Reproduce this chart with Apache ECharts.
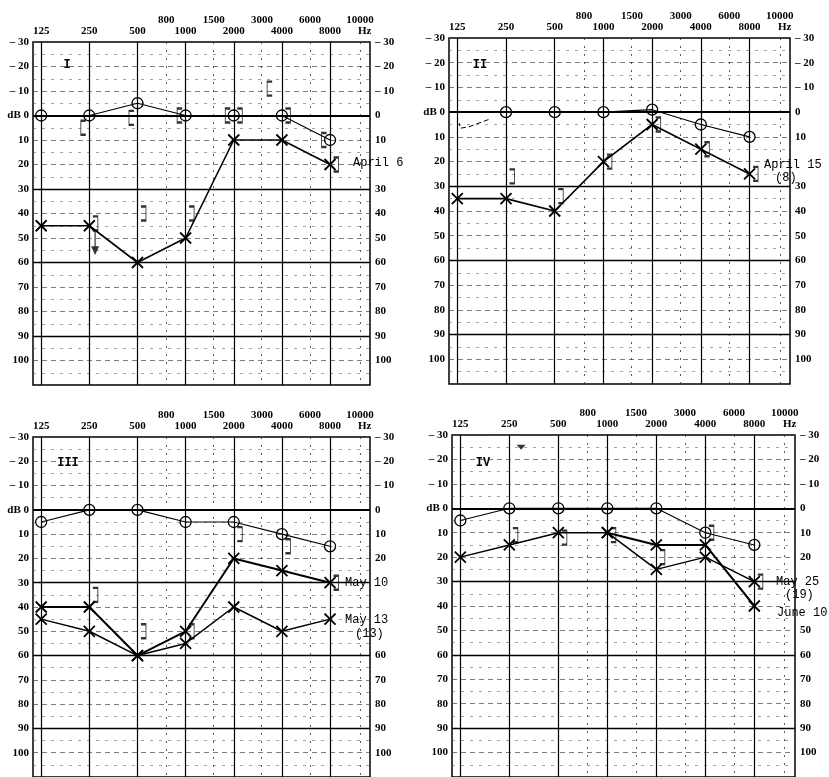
<!DOCTYPE html>
<html>
<head>
<meta charset="utf-8">
<script src="https://cdn.jsdelivr.net/npm/echarts@6/dist/echarts.min.js"></script>
<style>
html, body { margin: 0; padding: 0; background: #fff; }
#main { width: 829px; height: 777px; }
</style>
</head>
<body>
<div id="main"></div>
<script>
// frequency positions, octaves from 125 Hz
const freqPos = [0, 1, 2, 3, 4, 5, 6];
const freqLabels = ['125', '250', '500', '1000', '2000', '4000', '8000'];
const midPos = [2.6, 3.585, 4.585, 5.585, 6.62];
const midLabels = ['800', '1500', '3000', '6000', '10000'];
const boldLines = [0, 30, 60, 90];

// I - April 6
const airI = [0, 0, -5, 0, 0, 0, 10];
const crossI = [45, 45, 60, 50, 10, 10, 20];
const openI = [[1, 5], [2, 1], [3, 0], [4, 0], [6, 10], [4.87, -11]];
const closeI = [[1, 44], [2, 40], [3, 40], [4, 0], [5, 0], [6, 20]];
const arrowI = [[1.12, 52]];

// II - April 15 (8)
const airII = [null, 0, 0, 0, -1, 5, 10];
const crossII = [35, 35, 40, 20, 5, 15, 25];
const closeII = [[1, 26], [2, 34], [3, 20], [4, 5], [5, 15], [6, 25]];
const hookII = [[0.64, 3], [0.23, 6], [0.06, 6.5], [0.04, 4.5]];

// III - May 10, May 13 (13)
const airIII = [5, 0, 0, 5, 5, 10, 15];
const crossMay10 = [40, 40, 60, 50, 20, 25, 30];
const crossMay13 = [45, 50, 60, 55, 40, 50, 45];
const closeIII = [[1, 35], [2, 50], [3, 50], [4, 10], [5, 15], [6, 30]];

// IV - May 25 (19), June 10
const airIV = [5, 0, 0, 0, 0, 10, 15];
const crossMay25 = [20, 15, 10, 10, 25, 20, 30];
const crossJune10 = [null, null, null, 10, 15, 15, 40];
const closeIV = [[1, 11], [2, 12], [3, 11], [4, 20], [5, 10], [6, 30]];
const triIV = [[1.24, -25]];

const X_PATH = 'path://M0,0 L10,10 M10,0 L0,10';
const OPEN_PATH = 'path://M5,0 L0,0 L0,14 L5,14';
const CLOSE_PATH = 'path://M0,0 L5,0 L5,14 L0,14';
const ARROW_PATH = 'path://M4.4,0 L5.6,0 L5.6,14 L9,14 L5,22 L1,14 L4.4,14 Z';
const axisFont = 'Liberation Serif';

let grids = [], xAxes = [], yAxes = [], series = [];

function pts(arr) {
	let out = [];
	for (let i = 0; i < freqPos.length; i++) {
		if (arr[i] != null) out.push([freqPos[i], arr[i]]);
	}
	return out;
}

function leftLabel(v) {
	if (v === 110) return '';
	if (v < 0) return '– ' + (-v);
	if (v === 0) return 'dB 0';
	return String(v);
}

function rightLabel(hide) {
	return function (v) {
		if (v === 110 || hide.indexOf(v) >= 0) return '';
		if (v < 0) return '– ' + (-v);
		return String(v);
	};
}

function addPanel(box, hideRight) {
	let g = grids.length;
	grids.push({
		left: box.left, top: box.top, width: box.width, height: box.height,
		show: true, borderColor: '#000', borderWidth: 1.5, backgroundColor: '#fff'
	});
	let xi = xAxes.length;
	// lower row of frequencies
	xAxes.push({
		gridIndex: g, type: 'value', min: -0.17, max: 6.83, position: 'top',
		axisLine: { show: false }, axisTick: { show: false }, splitLine: { show: false },
		axisLabel: {
			customValues: freqPos.concat([6.72]),
			formatter: v => v > 6.5 ? 'Hz' : freqLabels[Math.round(v)],
			margin: 5, color: '#000', fontFamily: axisFont, fontWeight: 'bold', fontSize: 11
		}
	});
	// upper row
	xAxes.push({
		gridIndex: g, type: 'value', min: -0.17, max: 6.83, position: 'top', offset: 11,
		axisLine: { show: false }, axisTick: { show: false }, splitLine: { show: false },
		axisLabel: {
			customValues: midPos,
			formatter: v => midLabels[midPos.indexOf(v)],
			margin: 5, color: '#000', fontFamily: axisFont, fontWeight: 'bold', fontSize: 11
		}
	});
	let yi = yAxes.length;
	yAxes.push({
		gridIndex: g, type: 'value', inverse: true, min: -30, max: 110, interval: 10,
		axisLine: { show: false }, axisTick: { show: false },
		axisLabel: { formatter: leftLabel, margin: 4, color: '#000', fontFamily: axisFont, fontWeight: 'bold', fontSize: 11 },
		splitLine: { show: true, lineStyle: { color: '#444', width: 0.7, type: [5, 4] } },
		minorTick: { show: false, splitNumber: 2 },
		minorSplitLine: { show: true, lineStyle: { color: '#666', width: 0.6, type: [3, 6] } }
	});
	yAxes.push({
		gridIndex: g, type: 'value', inverse: true, min: -30, max: 110, interval: 10, position: 'right',
		axisLine: { show: false }, axisTick: { show: false }, splitLine: { show: false },
		axisLabel: { formatter: rightLabel(hideRight), margin: 5, color: '#000', fontFamily: axisFont, fontWeight: 'bold', fontSize: 11 }
	});

	// grid lines of the audiogram form
	let lines = [];
	for (let v of freqPos) lines.push({ xAxis: v, lineStyle: { color: '#000', width: 1.2, type: 'solid' } });
	for (let v of midPos) lines.push({ xAxis: v, lineStyle: { color: '#333', width: 0.8, type: [2, 6] } });
	for (let v of boldLines) lines.push({ yAxis: v, lineStyle: { color: '#000', width: v === 0 ? 2.2 : 1.3, type: 'solid' } });
	series.push({
		type: 'line', xAxisIndex: xi, yAxisIndex: yi, data: [], silent: true,
		markLine: { silent: true, symbol: ['none', 'none'], label: { show: false }, animation: false, data: lines }
	});
	return { xi, yi };
}

function airLine(p, arr) {
	series.push({
		type: 'line', xAxisIndex: p.xi, yAxisIndex: p.yi, data: pts(arr),
		symbol: 'circle', symbolSize: 11, z: 5,
		itemStyle: { color: 'rgba(0,0,0,0)', borderColor: '#000', borderWidth: 1.3 },
		lineStyle: { color: '#000', width: 1.1 }
	});
}

function crossLine(p, arr, w) {
	series.push({
		type: 'line', xAxisIndex: p.xi, yAxisIndex: p.yi, data: pts(arr),
		symbol: X_PATH, symbolSize: 11, z: 6,
		itemStyle: { color: '#000', borderColor: '#000', borderWidth: 1.8 },
		lineStyle: { color: '#000', width: w }
	});
}

function brackets(p, arr, path, dx) {
	series.push({
		type: 'scatter', xAxisIndex: p.xi, yAxisIndex: p.yi, data: arr,
		symbol: path, symbolSize: [5, 14], symbolOffset: [dx, 0], z: 7,
		itemStyle: { color: 'rgba(0,0,0,0)', borderColor: '#000', borderWidth: 1.4 }
	});
}

// I
let p1 = addPanel({ left: 33, top: 42, width: 337, height: 343 }, [20]);
airLine(p1, airI);
crossLine(p1, crossI, 1.6);
brackets(p1, openI, OPEN_PATH, -6);
brackets(p1, closeI, CLOSE_PATH, 6);
series.push({
	type: 'scatter', xAxisIndex: p1.xi, yAxisIndex: p1.yi, data: arrowI,
	symbol: ARROW_PATH, symbolSize: [8, 24], itemStyle: { color: '#000' }
});

// II
let p2 = addPanel({ left: 449, top: 38, width: 341, height: 346 }, [20]);
airLine(p2, airII);
crossLine(p2, crossII, 1.6);
brackets(p2, closeII, CLOSE_PATH, 6);
series.push({
	type: 'line', xAxisIndex: p2.xi, yAxisIndex: p2.yi, data: hookII, symbol: 'none',
	lineStyle: { color: '#000', width: 1, type: [5, 3] }
});

// III
let p3 = addPanel({ left: 33, top: 437, width: 337, height: 344 }, [30, 40, 50]);
airLine(p3, airIII);
crossLine(p3, crossMay10, 2);
crossLine(p3, crossMay13, 1.5);
brackets(p3, closeIII, CLOSE_PATH, 6);

// IV
let p4 = addPanel({ left: 452, top: 435, width: 343, height: 344 }, [30, 40]);
airLine(p4, airIV);
crossLine(p4, crossMay25, 1.5);
crossLine(p4, crossJune10, 2);
brackets(p4, closeIV, CLOSE_PATH, 6);
series.push({
	type: 'scatter', xAxisIndex: p4.xi, yAxisIndex: p4.yi, data: triIV,
	symbol: 'triangle', symbolRotate: 180, symbolSize: [9, 5], itemStyle: { color: '#000' }
});

// panel numbers and dates
const notes = [
	['I', 67, 65, 'bold 12px "Liberation Mono"', 'center'],
	['II', 480, 65, 'bold 12px "Liberation Mono"', 'center'],
	['III', 68, 463, 'bold 12px "Liberation Mono"', 'center'],
	['IV', 483, 463, 'bold 12px "Liberation Mono"', 'center'],
	['April 6', 353, 163, '12px "Liberation Mono"', 'left'],
	['April 15', 764, 165, '12px "Liberation Mono"', 'left'],
	['(8)', 775, 178, '12px "Liberation Mono"', 'left'],
	['May 10', 345, 583, '12px "Liberation Mono"', 'left'],
	['May 13', 345, 620, '12px "Liberation Mono"', 'left'],
	['(13)', 355, 634, '12px "Liberation Mono"', 'left'],
	['May 25', 776, 582, '12px "Liberation Mono"', 'left'],
	['(19)', 785, 595, '12px "Liberation Mono"', 'left'],
	['June 10', 777, 613, '12px "Liberation Mono"', 'left']
];
let graphic = notes.map(n => ({
	type: 'text', z: 100,
	style: { text: n[0], x: n[1], y: n[2], font: n[3], fill: '#000', textAlign: n[4], textVerticalAlign: 'middle' }
}));

let myChart = echarts.init(document.getElementById('main'), null, { renderer: 'canvas' });
myChart.setOption({
	animation: false,
	backgroundColor: '#fff',
	grid: grids,
	xAxis: xAxes,
	yAxis: yAxes,
	series: series,
	graphic: graphic
});
</script>
</body>
</html>
